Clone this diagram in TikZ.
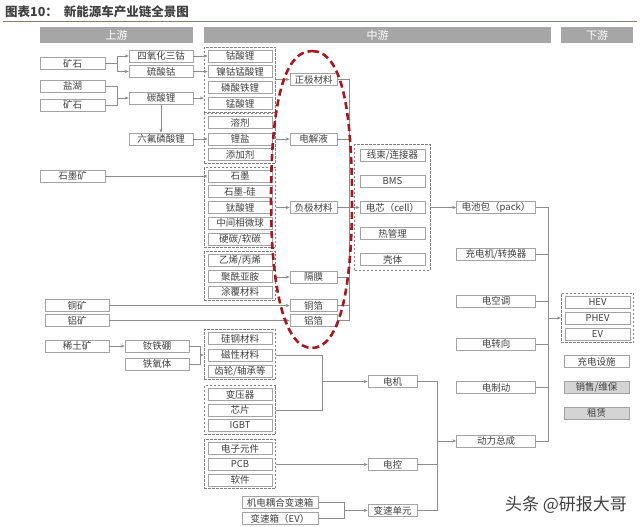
\documentclass[tikz,border=0pt]{standalone}
\usepackage{fontspec}
\setmainfont{Noto Sans CJK SC}
\usetikzlibrary{arrows.meta,fit,calc}

\definecolor{hdrgray}{HTML}{A6A6A6}
\definecolor{boxline}{HTML}{A3A3A3}
\definecolor{txtdark}{HTML}{404040}
\definecolor{arrgray}{HTML}{8C8C8C}
\definecolor{grpline}{HTML}{7F7F7F}
\definecolor{loopred}{HTML}{A3191E}
\definecolor{shadebox}{HTML}{D4D4D4}
\definecolor{ruleline}{HTML}{8C7B70}

\tikzset{
  box/.style={draw=boxline, fill=white, text=txtdark, line width=0.6pt,
    font=\fontsize{9.5}{10}\selectfont, minimum height=12pt, inner sep=0.5pt,
    minimum width=#1},
  box/.default=64pt,
  hdr/.style={fill=hdrgray, text=white, font=\fontsize{11}{11}\selectfont,
    minimum height=16pt, inner sep=0pt, minimum width=#1},
  grp/.style={draw=grpline, dash pattern=on 2.5pt off 1.5pt, line width=0.8pt,
    inner xsep=3.5pt, inner ysep=2.5pt},
  conn/.style={draw=arrgray, line width=0.6pt},
  arr/.style={conn, -{Stealth[length=4pt,width=3.2pt]}},
}

\begin{document}
\begin{tikzpicture}[x=1pt,y=1pt,yscale=-1]
\useasboundingbox (0,0) rectangle (640,527);

% title and rule
\node[anchor=west, inner sep=0pt, text=txtdark, font=\bfseries\fontsize{12.5}{13}\selectfont] (title) at (5,12) {图表10：\hspace{6pt}新能源车产业链全景图};
\draw[ruleline, line width=1.2pt] (3,21.5) -- (637,21.5);

% headers
\node[hdr=153pt] (up) at (116.5,35) {上游};
\node[hdr=347pt] (mid) at (377.5,35) {中游};
\node[hdr=72pt] (down) at (597,35) {下游};

% junction columns
\coordinate (jA) at (117,0);
\coordinate (jB) at (200,0);
\coordinate (jC) at (349,0);
\coordinate (jD) at (322,0);
\coordinate (jE) at (344,0);
\coordinate (jF) at (437,0);
\coordinate (jG) at (548,0);

% upstream
\node[box=65pt] (ore1) at (72.5,63.5) {矿石};
\node[box=65pt] (salt) at (72.5,86) {盐湖};
\node[box=65pt] (ore2) at (72.5,105) {矿石};
\node[box] (co3o4) at (161,56) {四氧化三钴};
\node[box] (coso4) at (161,71.5) {硫酸钴};
\node[box] (li2co3) at (161,98) {碳酸锂};
\node[box] (lipf6) at (161,139) {六氟磷酸锂};
\node[box=65pt] (graphore) at (72.5,176) {石墨矿};
\node[box] (cuore) at (77,305.5) {铜矿};
\node[box] (alore) at (77,320.5) {铝矿};
\node[box] (reore) at (77,346) {稀土矿};
\node[box] (ndfeb) at (157,346) {钕铁硼};
\node[box] (ferrite) at (157,364) {铁氧体};

% cathode materials
\node[box] (lco) at (240,56) {钴酸锂};
\node[box] (ncm) at (240,71.5) {镍钴锰酸锂};
\node[box] (lfp) at (240,87.5) {磷酸铁锂};
\node[box] (lmo) at (240,103.5) {锰酸锂};
\node[grp, fit=(lco)(lmo)] (cathgrp) {};
% electrolyte materials
\node[box] (solv) at (240,122.5) {溶剂};
\node[box] (lisalt) at (240,139) {锂盐};
\node[box] (addi) at (240,154.5) {添加剂};
\node[grp, fit=(solv)(addi)] (elecgrp) {};
% anode materials
\node[box] (gr) at (240,176) {石墨};
\node[box] (grsi) at (240,191.5) {石墨-硅};
\node[box] (lto) at (240,207.5) {钛酸锂};
\node[box] (mcmb) at (240,223) {中间相微球};
\node[box] (hc) at (240,239) {硬碳/软碳};
\node[grp, fit=(gr)(hc)] (anodegrp) {};
% separator materials
\node[box] (pe) at (240,260.5) {乙烯/丙烯};
\node[box] (pim) at (240,276.5) {聚酰亚胺};
\node[box] (coat) at (240,292) {涂覆材料};
\node[grp, fit=(pe)(coat)] (sepgrp) {};
% motor materials
\node[box] (sisteel) at (240,338.5) {硅钢材料};
\node[box] (mag) at (240,355) {磁性材料};
\node[box] (gear) at (240,371) {齿轮/轴承等};
\node[grp, fit=(sisteel)(gear)] (motgrp) {};
% control parts
\node[box] (trans) at (240,394.5) {变压器};
\node[box] (chip) at (240,410) {芯片};
\node[box] (igbt) at (240,425.5) {IGBT};
\node[grp, fit=(trans)(igbt)] (ctlgrp) {};
\node[box] (elec) at (240,448.5) {电子元件};
\node[box] (pcb) at (240,464.5) {PCB};
\node[box] (soft) at (240,480) {软件};
\node[grp, fit=(elec)(soft)] (pcbgrp) {};
\node[box=76pt] (gbox1) at (280,502.5) {机电耦合变速箱};
\node[box=76pt] (gbox2) at (280,518.5) {变速箱（EV）};

% battery materials column
\node[box=47pt] (cathode) at (313.5,79.5) {正极材料};
\node[box=47pt] (electrolyte) at (313.5,139) {电解液};
\node[box=47pt] (anode) at (313.5,207.5) {负极材料};
\node[box=47pt] (sep) at (313.5,277) {隔膜};
\node[box=47pt] (cufoil) at (313.5,305.5) {铜箔};
\node[box=47pt] (alfoil) at (313.5,320.5) {铝箔};

% cell parts
\node[box=65pt] (harness) at (392.5,155.5) {线束/连接器};
\node[box=65pt] (bms) at (392.5,181.5) {BMS};
\node[box=65pt] (cell) at (392.5,207.5) {电芯（cell）};
\node[box=65pt] (thermal) at (392.5,233.5) {热管理};
\node[box=65pt] (shell) at (392.5,259.5) {壳体};
\node[grp, inner xsep=5pt, inner ysep=4.5pt, fit=(harness)(shell)] (cellgrp) {};

% drive parts
\node[box=49pt] (motor) at (392.5,381.5) {电机};
\node[box=49pt] (ctrl) at (392.5,464.5) {电控};
\node[box=49pt] (trunit) at (392.5,510.5) {变速单元};

% system column
\node[box=79pt] (pack) at (496,207.5) {电池包（pack）};
\node[box=79pt] (charger) at (496,254.5) {充电机/转换器};
\node[box=79pt] (aircon) at (496,301) {电空调};
\node[box=79pt] (steer) at (496,344) {电转向};
\node[box=79pt] (brake) at (496,387.5) {电制动};
\node[box=79pt] (power) at (496,441) {动力总成};

% downstream
\node[box=65pt] (hev) at (597.5,302) {HEV};
\node[box=65pt] (phev) at (597.5,318) {PHEV};
\node[box=65pt] (ev) at (597.5,334) {EV};
\node[grp, fit=(hev)(ev)] (vehgrp) {};
\node[box=65pt] (chgfac) at (596.5,361.5) {充电设施};
\node[box=65pt, fill=shadebox] (sales) at (596.5,387) {销售/维保};
\node[box=65pt, fill=shadebox] (lease) at (596.5,413) {租赁};

% upstream links
\draw[arr] (ore1.east) -| (jA |- co3o4) -- (co3o4.west);
\draw[arr] (ore1.east) -| (jA |- coso4) -- (coso4.west);
\draw[arr] (salt.east) -| (jA |- li2co3) -- (li2co3.west);
\draw[conn] (ore2.east) -| (jA |- li2co3);
\draw[arr] (li2co3.south) -- (lipf6.north);
\draw[arr] (co3o4) -- (lco);
\draw[arr] (coso4) -- (ncm);
\draw[arr] (li2co3.east) -- (li2co3.east -| cathgrp.west);
\draw[arr] (lipf6) -- (lisalt);
\draw[arr] (graphore) -- (gr);
\draw[arr] (cuore) -- (cufoil);
\draw[arr] (alore) -- (alfoil);
\draw[arr] (reore) -- (ndfeb);
\draw[conn] (ndfeb.east) -| (jB |- mag);
\draw[conn] (ferrite.east) -| (jB |- mag);
\draw[arr] (jB |- mag) -- (motgrp.west |- mag);

% materials to battery column
\draw[arr] (cathgrp.east |- cathode) -- (cathode.west);
\draw[arr] (elecgrp.east |- electrolyte) -- (electrolyte.west);
\draw[arr] (anodegrp.east |- anode) -- (anode.west);
\draw[arr] (sepgrp.east |- sep) -- (sep.west);
\draw[conn] (cathode.east) -| (jC |- alfoil) -- (alfoil.east);
\draw[conn] (electrolyte.east) -- (jC |- electrolyte);
\draw[conn] (anode.east) -- (jC |- anode);
\draw[conn] (sep.east) -- (jC |- sep);
\draw[conn] (cufoil.east) -- (jC |- cufoil);
\draw[arr] (jC |- cell) -- (cell.west);
\draw[arr] (cellgrp.east |- pack) -- (pack.west);

% drive links
\draw[conn] (motgrp.east |- mag) -| (jD |- chip) -- (ctlgrp.east |- chip);
\draw[arr] (jD |- motor) -- (motor.west);
\draw[arr] (pcbgrp.east |- pcb) -- (ctrl.west);
\draw[conn] (gbox1.east) -| (jE |- gbox2) -- (gbox2.east);
\draw[arr] (jE |- trunit) -- (trunit.west);
\draw[conn] (motor.east) -| (jF |- trunit) -- (trunit.east);
\draw[conn] (ctrl.east) -- (jF |- ctrl);
\draw[arr] (jF |- power) -- (power.west);

% system links
\draw[conn] (pack.east) -| (jG |- power) -- (power.east);
\draw[conn] (charger.east) -- (jG |- charger);
\draw[conn] (aircon.east) -- (jG |- aircon);
\draw[conn] (steer.east) -- (jG |- steer);
\draw[conn] (brake.east) -- (jG |- brake);
\draw[arr] (jG |- phev) -- (vehgrp.west |- phev);

% red loop
\draw[loopred, line width=2.6pt, dash pattern=on 7pt off 4pt]
  (312,51) .. controls (342,51) and (352,110) .. (352,200)
  .. controls (352,295) and (338,348) .. (312,348)
  .. controls (286,348) and (271,295) .. (271,200)
  .. controls (271,110) and (282,51) .. (312,51) -- cycle;

% watermark
\node[text=txtdark, inner sep=0pt, font=\fontsize{17}{17}\selectfont] (mark) at (566,505) {头条 @研报大哥};
\end{tikzpicture}
\end{document}
